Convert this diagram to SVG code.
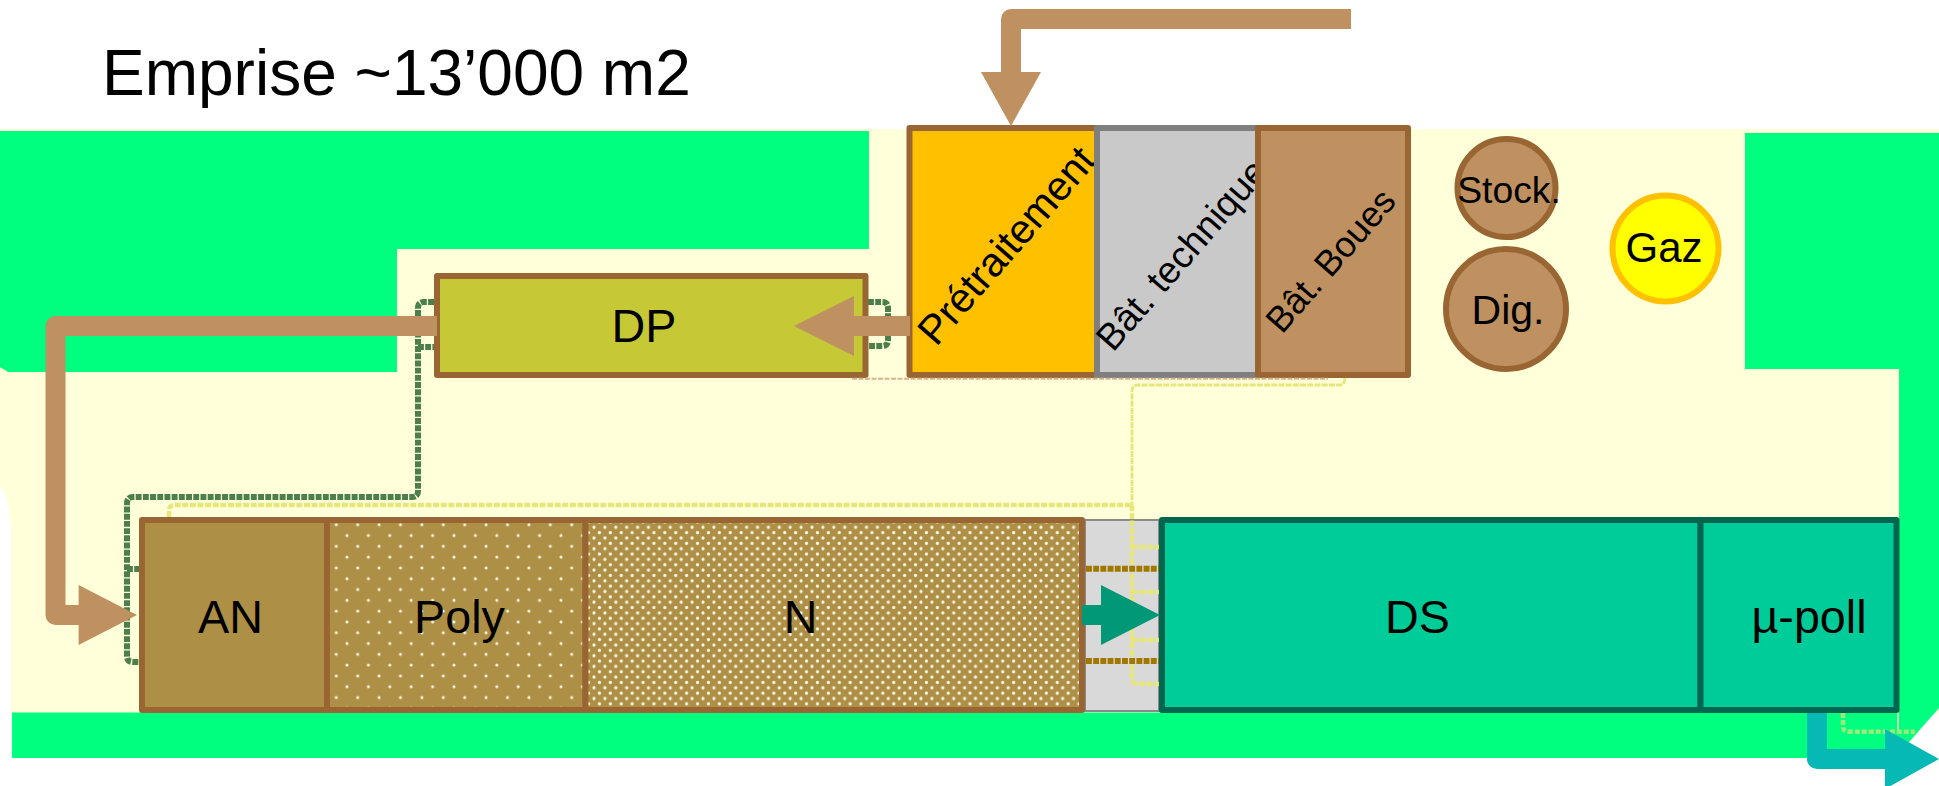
<svg xmlns="http://www.w3.org/2000/svg" width="1939" height="786" viewBox="0 0 1939 786">
<style>
text{font-family:"Liberation Sans",Arial,sans-serif;fill:#000;text-anchor:middle}
.t35{font-size:46.67px}
.t30{font-size:40px}
.t28{font-size:37.33px}
.box{stroke-width:6;stroke-linejoin:round}
.brown{stroke:#996633}
.sec{stroke:#006650}
.tan{fill:none;stroke:#BF9060;stroke-width:20;stroke-linejoin:round}
.tanh{fill:#BF9060}
.dg{fill:none;stroke:#4D7F4D;stroke-width:6;stroke-dasharray:5.9 1.3}
.dy{fill:none;stroke:#E6E67A;stroke-width:4.5;stroke-dasharray:6 1.6}
.dyt{fill:none;stroke:#E6E67A;stroke-width:2.8;stroke-dasharray:6 1.2}
.db{fill:none;stroke:#A07800;stroke-width:6;stroke-dasharray:5.9 1.3}
</style>
<defs>
<pattern id="pPoly" patternUnits="userSpaceOnUse" x="336.3" y="524.7" width="21.4" height="21.6">
<rect x="0" y="0" width="21.4" height="21.6" fill="#AD8F45"/>
<circle cx="0" cy="0" r="1.5" fill="#FFF8E8"/><circle cx="21.4" cy="0" r="1.5" fill="#FFF8E8"/><circle cx="0" cy="21.6" r="1.5" fill="#FFF8E8"/><circle cx="21.4" cy="21.6" r="1.5" fill="#FFF8E8"/>
<circle cx="10.7" cy="10.8" r="1.5" fill="#FFF8E8"/>
</pattern>
<pattern id="pN" patternUnits="userSpaceOnUse" x="594" y="527.3" width="10.9" height="10.7">
<rect x="0" y="0" width="10.9" height="10.7" fill="#AD8F45"/>
<circle cx="0" cy="0" r="1.6" fill="#FFF8E8"/><circle cx="10.9" cy="0" r="1.6" fill="#FFF8E8"/><circle cx="0" cy="10.7" r="1.6" fill="#FFF8E8"/><circle cx="10.9" cy="10.7" r="1.6" fill="#FFF8E8"/>
<circle cx="5.45" cy="5.35" r="1.6" fill="#FFF8E8"/>
</pattern>
</defs>
<rect x="0" y="0" width="1939" height="786" fill="#fff"/>
<g id="site">
<path d="M0 129H1939V713H11V530Q10 500 0 485Z" fill="#FFFFD9"/>
<path d="M0 131H869V249H397V372H8L0 367Z" fill="#00FF7F"/>
<path d="M1745 133H1939V708L1895 758H12V712.500H1899V369H1745Z" fill="#00FF7F"/>
<rect x="1897" y="713" width="2" height="18" fill="#BFFFB0"/>
</g>
<text x="102" y="95" style="font-size:64px;text-anchor:start">Emprise ~13’000 m2</text>
<text x="48.500" y="818.500" class="t35" style="text-anchor:start">DP</text>
<g id="bassin-liaison"><rect x="1085" y="520" width="74" height="191" fill="#D9D9D9" stroke="#8A8A8A" stroke-width="2"/></g>
<g id="dp"><rect class="box brown" x="437" y="276" width="428.500" height="99" fill="#C6C935"/><text class="t35" x="644" y="342">DP</text></g>
<g id="pretraitement"><rect class="box brown" x="909.500" y="128" width="187.500" height="247" fill="#FFC000"/><text style="font-size:41px" transform="translate(1006 245) rotate(-49)" x="0" y="14.500">Prétraitement</text></g>
<g id="bat-technique"><rect class="box" stroke="#7F7F7F" x="1097" y="128" width="161" height="247" fill="#C9C9C9"/><text class="t28" transform="translate(1181 254) rotate(-49)" x="0" y="13.500">Bât. technique</text></g>
<g id="bat-boues"><rect class="box brown" x="1258" y="128" width="150" height="247" fill="#BF9060"/><text style="font-size:36px" transform="translate(1330 260) rotate(-49)" x="0" y="13">Bât. Boues</text></g>
<g id="stock"><circle class="box brown" cx="1506.500" cy="188" r="49" fill="#BF9060"/><text class="t28" x="1509" y="203">Stock.</text></g>
<g id="dig"><circle class="box brown" cx="1506" cy="309" r="60" fill="#BF9060"/><text style="font-size:41px" x="1508" y="324">Dig.</text></g>
<g id="gaz"><circle class="box" stroke="#FFC000" cx="1665.500" cy="248.500" r="53" fill="#FFFF00"/><text style="font-size:42px" x="1664" y="262">Gaz</text></g>
<g id="an"><rect class="box brown" x="142" y="520" width="185" height="190" fill="#AD8F45"/><text class="t35" x="230.500" y="632.700">AN</text></g>
<g id="poly"><rect class="box brown" x="327" y="520" width="258.500" height="190" fill="url(#pPoly)"/><text class="t35" x="459.500" y="632.700">Poly</text></g>
<g id="n"><rect class="box brown" x="585.500" y="520" width="496.500" height="190" fill="url(#pN)"/><text class="t35" x="800.500" y="632.700">N</text></g>
<g id="ds"><rect class="box sec" x="1162" y="520" width="538.500" height="190" fill="#00CC99"/><text class="t35" x="1417.500" y="632.700">DS</text></g>
<g id="upoll"><rect class="box sec" x="1700.500" y="520" width="196" height="190" fill="#00CC99"/><text class="t35" x="1809" y="632.700">µ-poll</text></g>
<g id="connectors">
<path d="M852 378.700H1328" fill="none" stroke="#D9B48F" stroke-width="2" stroke-dasharray="5 1.500"/>
<path class="dg" d="M434 302H424Q418 302 418 308V491Q418 497 412 497H133Q127 497 127 503V656Q127 662 133 662H139"/>
<path class="dg" d="M418 347H434"/>
<path class="dg" d="M127 569H139"/>
<path class="dg" d="M868 302H882Q888 302 888 308V340Q888 346 882 346H868"/>
<path class="dyt" d="M1345 378Q1345 385 1339 385H1138Q1132 385 1132 391V505"/>
<path class="dy" d="M169 517V511Q169 505 175 505H1132V678Q1132 684 1138 684H1159"/>
<path class="dy" d="M1132 547H1159M1132 592H1159M1132 640H1159"/>
<path class="db" d="M1086 568.700H1159M1086 661H1159"/>
<path d="M1843 713V726Q1843 731.700 1849 731.700H1915" fill="none" stroke="#9CEB78" stroke-width="4.500" stroke-dasharray="5 2"/>
<path class="tan" d="M1351 19H1011V73"/>
<polygon class="tanh" points="981,72 1041,72 1011,126"/>
<path class="tan" d="M910 326H853"/>
<polygon class="tanh" points="854,296 854,356 794,326"/>
<path class="tan" d="M437 326H55.500V615H80"/>
<polygon class="tanh" points="78.600,585 137,615 78.600,645"/>
<path d="M1082 615H1102" fill="none" stroke="#009876" stroke-width="20"/>
<polygon points="1101,585 1160,615 1101,645" fill="#009876"/>
<path d="M1817 713V759H1886" fill="none" stroke="#06B9B5" stroke-width="20" stroke-linejoin="round"/>
<polygon points="1885,729 1939,759 1885,789" fill="#06B9B5"/>
</g>
</svg>
